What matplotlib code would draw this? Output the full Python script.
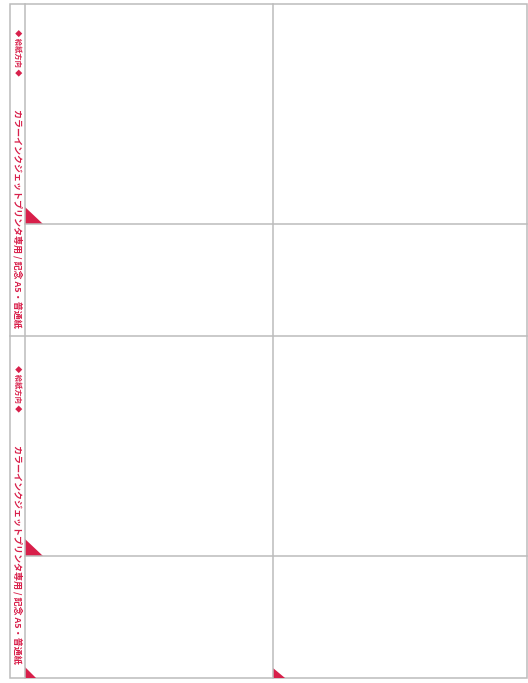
"""A5 用紙テンプレート（2面×2段 × 2）を再現する。"""

import matplotlib.pyplot as plt
from matplotlib.patches import Polygon, Rectangle

plt.rcParams['font.family'] = ['Noto Sans CJK JP', 'DejaVu Sans']

# ページ寸法（ピクセル単位の座標系）
page_w, page_h = 528, 683

# 枠線
frame_left, frame_top, frame_right, frame_bottom = 10, 4, 527, 678
strip_x = 25
col_split_x = 273
row_lines_y = [224, 336, 556]

# 給紙マーク（赤い三角）: (x, y, 幅, 高さ)
marks = [
    (25, 224, 18, 17),
    (25, 556, 18, 17),
    (25, 678, 11, 11),
    (273, 678, 12, 10),
]

# 縦書きラベル
label_feed = "◆ 給紙方向 ◆"
label_spec = "カラーインクジェットプリンタ専用 / 記念 A5・普通紙"
label_feed_y = [52, 388]
label_spec_y = [218, 554]

red = "#d81f4a"
grey = "#bcbcbc"

fig = plt.figure(figsize=(page_w / 100, page_h / 100), dpi=100)
ax = fig.add_axes([0, 0, 1, 1])
ax.set_xlim(0, page_w)
ax.set_ylim(page_h, 0)
ax.axis("off")

# 外枠
ax.add_patch(Rectangle((frame_left, frame_top), frame_right - frame_left,
                       frame_bottom - frame_top, fill=False, ec=grey, lw=1.1))
# 縦線
ax.plot([strip_x, strip_x], [frame_top, frame_bottom], color=grey, lw=1.1)
ax.plot([col_split_x, col_split_x], [frame_top, frame_bottom], color=grey, lw=1.1)
# 横線
for y in row_lines_y:
    x0 = frame_left if y == 336 else strip_x
    ax.plot([x0, frame_right], [y, y], color=grey, lw=1.1)

# 三角マーク
for x, y, w, h in marks:
    ax.add_patch(Polygon([(x, y - h), (x, y), (x + w, y)], closed=True,
                         fc=red, ec="none"))

# 縦書きテキスト
for y in label_feed_y:
    ax.text(17.5, y, label_feed, rotation=-90, ha="center", va="center",
            color=red, fontsize=5.2, fontweight="bold")
for y in label_spec_y:
    ax.text(17.5, y, label_spec, rotation=-90, ha="center", va="center",
            color=red, fontsize=6.5, fontweight="bold")

fig.savefig("out.png", dpi=100, facecolor="white")
plt.close(fig)
